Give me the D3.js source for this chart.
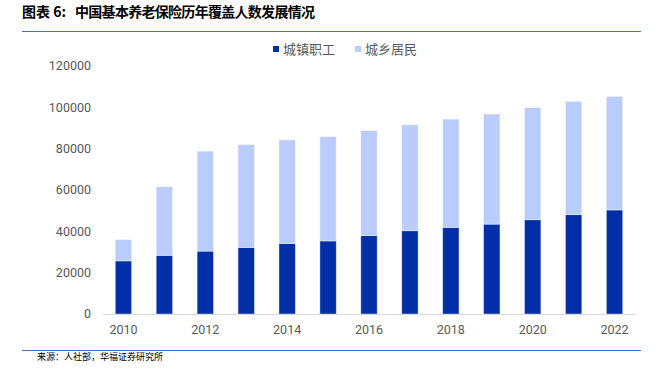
<!DOCTYPE html>
<html>
<head>
<meta charset="utf-8">
<script src="https://cdn.jsdelivr.net/npm/d3@7"></script>
<style>
  body { margin: 0; background: #fff; }
  svg { display: block; }
</style>
</head>
<body>
<script>
// 城镇职工 / 城乡居民 基本养老保险参保人数 (万人)
const years = [2010, 2011, 2012, 2013, 2014, 2015, 2016, 2017, 2018, 2019, 2020, 2021, 2022];
const urbanWorkers = [25707, 28391, 30427, 32218, 34124, 35361, 37930, 40293, 41902, 43488, 45621, 48074, 50355];
const ruralResidents = [10277, 33182, 48369, 49750, 50108, 50472, 50847, 51255, 52391, 53266, 54244, 54797, 54952];
const seriesNames = ["城镇职工", "城乡居民"];
const yTicks = [0, 20000, 40000, 60000, 80000, 100000, 120000];
const xTickYears = [2010, 2012, 2014, 2016, 2018, 2020, 2022];

const width = 663, height = 372;
const colors = ["#002FA7", "#B9CCFB"];
const cjk = '"Noto Sans CJK SC", "Noto Sans", sans-serif';

const svg = d3.select("body").append("svg")
    .attr("width", width)
    .attr("height", height);

// title
const title = svg.append("g")
    .attr("font-family", cjk)
    .attr("font-weight", "bold")
    .attr("font-size", 14)
    .attr("fill", "#000");
title.append("text").attr("x", 22).attr("y", 17).text("图表 6:");
title.append("text").attr("x", 75).attr("y", 17)
    .attr("textLength", 240).attr("lengthAdjust", "spacing")
    .text("中国基本养老保险历年覆盖人数发展情况");

svg.append("line")
    .attr("x1", 22).attr("x2", 641)
    .attr("y1", 31.5).attr("y2", 31.5)
    .attr("stroke", "#4472C4").attr("stroke-width", 1.2);

// source
svg.append("line")
    .attr("x1", 22).attr("x2", 641)
    .attr("y1", 350.5).attr("y2", 350.5)
    .attr("stroke", "#4472C4").attr("stroke-width", 1.2);

svg.append("text")
    .attr("x", 37).attr("y", 359.5)
    .attr("font-family", cjk)
    .attr("font-size", 9)
    .attr("fill", "#000")
    .text("来源：人社部，华福证券研究所");

// scales
const x = d3.scaleBand()
    .domain(years)
    .range([103, 635])
    .paddingInner(0.6)
    .paddingOuter(0.3);

const y = d3.scaleLinear()
    .domain([0, 120000])
    .range([314, 66]);

const table = years.map((yr, i) => ({ year: yr, "城镇职工": urbanWorkers[i], "城乡居民": ruralResidents[i] }));
const stacked = d3.stack().keys(seriesNames)(table);

// y axis labels
svg.append("g")
    .selectAll("text")
    .data(yTicks)
    .join("text")
    .attr("x", 91)
    .attr("y", d => y(d))
    .attr("dy", "0.35em")
    .attr("text-anchor", "end")
    .attr("font-family", "Roboto, 'Liberation Sans', sans-serif")
    .attr("font-size", 12.5)
    .attr("fill", "#595959")
    .text(d => d);

// bars
svg.append("g")
    .selectAll("g")
    .data(stacked)
    .join("g")
    .attr("fill", (d, i) => colors[i])
    .selectAll("rect")
    .data(d => d)
    .join("rect")
    .attr("x", d => x(d.data.year))
    .attr("width", x.bandwidth())
    .attr("y", d => y(d[1]))
    .attr("height", d => y(d[0]) - y(d[1]))
    .attr("stroke", "#ffffff")
    .attr("stroke-opacity", 0.5)
    .attr("stroke-width", 0.8);

// x axis line
svg.append("line")
    .attr("x1", 103).attr("x2", 635)
    .attr("y1", 314.5).attr("y2", 314.5)
    .attr("stroke", "#D9D9D9").attr("stroke-width", 1.2);

// x labels
svg.append("g")
    .selectAll("text")
    .data(xTickYears)
    .join("text")
    .attr("x", d => x(d) + x.bandwidth() / 2)
    .attr("y", 334)
    .attr("text-anchor", "middle")
    .attr("font-family", "Roboto, 'Liberation Sans', sans-serif")
    .attr("font-size", 12.5)
    .attr("fill", "#595959")
    .text(d => d);

// legend
const legendX = [273, 355];
const legend = svg.append("g")
    .selectAll("g")
    .data(seriesNames)
    .join("g")
    .attr("transform", (d, i) => `translate(${legendX[i]},49)`);

legend.append("rect")
    .attr("x", 0).attr("y", -3)
    .attr("width", 6).attr("height", 6)
    .attr("fill", (d, i) => colors[i]);

legend.append("text")
    .attr("x", 10).attr("y", 0)
    .attr("dy", "0.36em")
    .attr("font-family", cjk)
    .attr("font-size", 13)
    .attr("fill", "#595959")
    .text(d => d);
</script>
</body>
</html>
